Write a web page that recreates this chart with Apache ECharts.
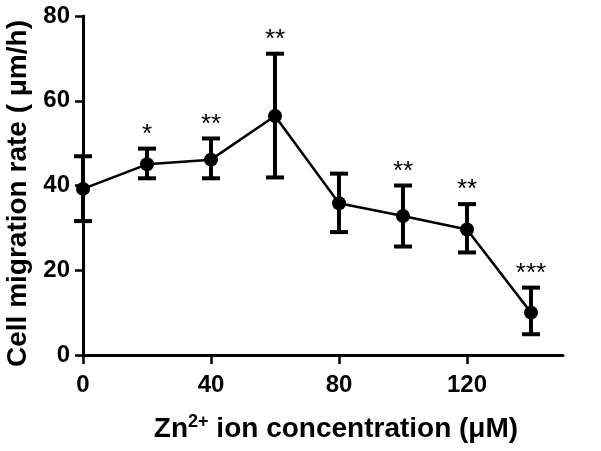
<!DOCTYPE html>
<html>
<head>
<meta charset="utf-8">
<script src="https://cdn.jsdelivr.net/npm/echarts@6/dist/echarts.min.js"></script>
<style>html,body{margin:0;padding:0;background:#fff}#c{width:601px;height:451px}</style>
</head>
<body>
<div id="c"></div>
<script>
var concentrations = [0, 20, 40, 60, 80, 100, 120, 140];
var means = [39.2, 45.0, 46.1, 56.4, 35.8, 32.8, 29.6, 10.0];
var upper = [46.9, 48.7, 51.1, 71.1, 42.8, 40.0, 35.6, 15.9];
var lower = [31.6, 41.7, 41.7, 41.9, 29.0, 25.6, 24.2, 4.9];
var stars = ['', '*', '**', '**', '', '**', '**', '***'];
var xTicks = [0, 40, 80, 120];
var yTicks = [0, 20, 40, 60, 80];

var FONT = '"Liberation Sans", Arial, sans-serif';
var chart = echarts.init(document.getElementById('c'));
var errData = concentrations.map(function (x, i) { return [x, lower[i], upper[i], i]; });
var lineData = concentrations.map(function (x, i) { return [x, means[i]]; });

chart.setOption({
  animation: false,
  backgroundColor: '#fff',
  grid: { left: 83, right: 38, top: 16, bottom: 96, containLabel: false, outerBoundsMode: 'none' },
  xAxis: {
    type: 'value', min: 0, max: 150,
    name: 'Zn{sup|2+} ion concentration (μM)',
    nameLocation: 'middle', nameGap: 58,
    nameTextStyle: {
      fontFamily: FONT, fontWeight: 'bold', fontSize: 28, color: '#000', padding: [0, 0, 0, 26],
      rich: { sup: { fontFamily: FONT, fontWeight: 'bold', fontSize: 18, color: '#000', padding: [0, 0, 14, 0] } }
    },
    axisLine: { show: true, lineStyle: { color: '#000', width: 3 } },
    axisTick: { show: true, length: 9, lineStyle: { color: '#000', width: 2.5 }, customValues: xTicks },
    axisLabel: { customValues: xTicks, fontFamily: FONT, fontWeight: 'bold', fontSize: 24, color: '#000', margin: 18 },
    splitLine: { show: false }
  },
  yAxis: {
    type: 'value', min: 0, max: 80, interval: 20,
    name: 'Cell migration rate ( μm/h)',
    nameLocation: 'middle', nameGap: 48,
    nameTextStyle: { fontFamily: FONT, fontWeight: 'bold', fontSize: 28, color: '#000', padding: [0, 16, 0, 0] },
    axisLine: { show: true, lineStyle: { color: '#000', width: 3 } },
    axisTick: { show: true, length: 8, lineStyle: { color: '#000', width: 2.5 }, customValues: yTicks },
    axisLabel: { customValues: yTicks, fontFamily: FONT, fontWeight: 'bold', fontSize: 24, color: '#000', margin: 13 },
    splitLine: { show: false }
  },
  series: [
    {
      type: 'custom',
      data: errData,
      z: 2,
      renderItem: function (params, api) {
        var x = api.value(0);
        var lo = api.coord([x, api.value(1)]);
        var hi = api.coord([x, api.value(2)]);
        var idx = api.value(3);
        var hw = 9;
        var st = { stroke: '#000', lineWidth: 4 };
        var children = [
          { type: 'line', shape: { x1: lo[0], y1: lo[1], x2: hi[0], y2: hi[1] }, style: st },
          { type: 'line', shape: { x1: hi[0] - hw, y1: hi[1], x2: hi[0] + hw, y2: hi[1] }, style: st },
          { type: 'line', shape: { x1: lo[0] - hw, y1: lo[1], x2: lo[0] + hw, y2: lo[1] }, style: st }
        ];
        var s = stars[idx];
        if (s) {
          children.push({
            type: 'text',
            style: {
              text: s, x: hi[0], y: hi[1] - 1, align: 'center', verticalAlign: 'bottom',
              fontFamily: FONT, fontSize: 26, fontWeight: 'normal', fill: '#000'
            }
          });
        }
        return { type: 'group', children: children };
      }
    },
    {
      type: 'line',
      data: lineData,
      z: 3,
      symbol: 'circle', symbolSize: 14,
      itemStyle: { color: '#000' },
      lineStyle: { color: '#000', width: 2.5 }
    }
  ]
});
</script>
</body>
</html>
